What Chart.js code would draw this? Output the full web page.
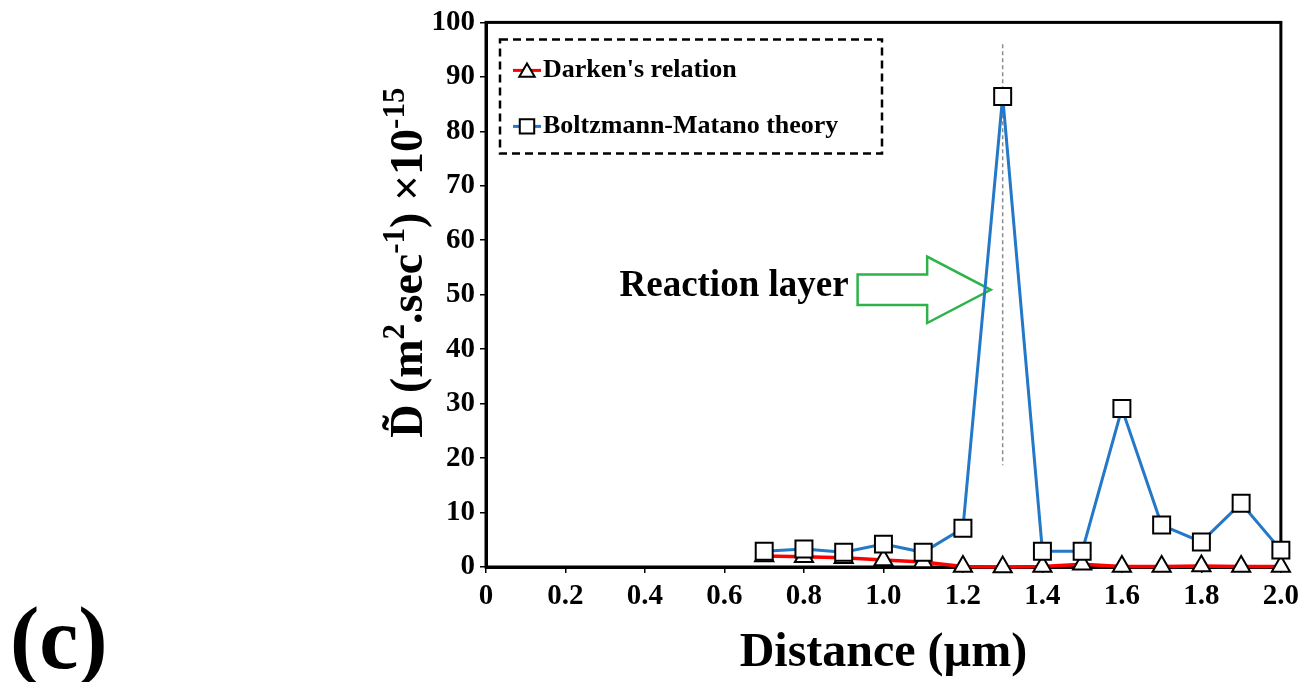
<!DOCTYPE html>
<html>
<head>
<meta charset="utf-8">
<script src="https://cdn.jsdelivr.net/npm/chart.js@4.4.0/dist/chart.umd.min.js"></script>
<style>
  html, body { margin: 0; padding: 0; background: #fff; }
  #wrap { width: 1305px; height: 682px; }
</style>
</head>
<body>
<div id="wrap"><canvas id="myChart" width="1305" height="682"></canvas></div>
<script>
// Distances (um) and diffusion coefficients (x10^-15 m2/s)
var distances = [0.7, 0.8, 0.9, 1.0, 1.1, 1.2, 1.3, 1.4, 1.5, 1.6, 1.7, 1.8, 1.9, 2.0];
var darkenValues = [2.0, 1.9, 1.7, 1.3, 0.9, 0.1, 0.0, 0.1, 0.5, 0.1, 0.1, 0.2, 0.1, 0.1];
var matanoValues = [2.9, 3.3, 2.7, 4.2, 2.7, 7.1, 86.4, 2.9, 2.9, 29.1, 7.7, 4.6, 11.7, 3.1];
var seriesNames = ["Darken's relation", "Boltzmann-Matano theory"];
var xTicks = [0, 0.2, 0.4, 0.6, 0.8, 1.0, 1.2, 1.4, 1.6, 1.8, 2.0];
var yTicks = [0, 10, 20, 30, 40, 50, 60, 70, 80, 90, 100];

// y axis title pieces: [text, superscript?]
var yTitle = [['D\u0303 (m', false], ['2', true], ['.sec', false], ['-1', true], [') \u00d710', false], ['-15', true]];

// reaction layer marker (dashed line) and arrow, in data units
var markerX = 1.3;
var markerRange = [18.7, 96];
var arrowLabel = 'Reaction layer';
var arrowX = [0.935, 1.11, 1.27];   // tail, head start, tip
var arrowY = [50.9, 2.8, 6.1];      // centre, body half height, head half height

var SERIF = '"Liberation Serif", "Times New Roman", serif';

function points(xs, ys) {
  return xs.map(function (x, i) { return { x: x, y: ys[i] }; });
}

var extras = {
  id: 'extras',
  beforeDatasetsDraw: function (chart) {
    var ctx = chart.ctx, a = chart.chartArea;
    var xs = chart.scales.x, ys = chart.scales.y;
    ctx.save();
    // frame
    ctx.strokeStyle = '#000';
    ctx.lineWidth = 3;
    ctx.strokeRect(a.left, a.top, a.right - a.left, a.bottom - a.top);

    // dashed marker line
    ctx.strokeStyle = '#8c8c8c';
    ctx.lineWidth = 1.5;
    ctx.setLineDash([4, 3]);
    ctx.beginPath();
    ctx.moveTo(xs.getPixelForValue(markerX), ys.getPixelForValue(markerRange[1]));
    ctx.lineTo(xs.getPixelForValue(markerX), ys.getPixelForValue(markerRange[0]));
    ctx.stroke();
    ctx.setLineDash([]);

    // green arrow
    var x0 = xs.getPixelForValue(arrowX[0]), x1 = xs.getPixelForValue(arrowX[1]), x2 = xs.getPixelForValue(arrowX[2]);
    var yc = ys.getPixelForValue(arrowY[0]);
    var hb = ys.getPixelForValue(0) - ys.getPixelForValue(arrowY[1]);
    var hh = ys.getPixelForValue(0) - ys.getPixelForValue(arrowY[2]);
    ctx.beginPath();
    ctx.moveTo(x0, yc - hb);
    ctx.lineTo(x1, yc - hb);
    ctx.lineTo(x1, yc - hh);
    ctx.lineTo(x2, yc);
    ctx.lineTo(x1, yc + hh);
    ctx.lineTo(x1, yc + hb);
    ctx.lineTo(x0, yc + hb);
    ctx.closePath();
    ctx.fillStyle = '#fff';
    ctx.fill();
    ctx.strokeStyle = '#2db34a';
    ctx.lineWidth = 2.5;
    ctx.stroke();

    ctx.fillStyle = '#000';
    ctx.font = 'bold 37px ' + SERIF;
    ctx.textAlign = 'right';
    ctx.textBaseline = 'middle';
    ctx.fillText(arrowLabel, x0 - 9, yc - 3);
    ctx.restore();
  },
  afterDraw: function (chart) {
    var ctx = chart.ctx, a = chart.chartArea;
    ctx.save();
    // legend box
    var bx = a.left + 14, by = a.top + 17, bw = 382, bh = 114;
    ctx.strokeStyle = '#000';
    ctx.lineWidth = 2.5;
    ctx.setLineDash([8, 5]);
    ctx.strokeRect(bx, by, bw, bh);
    ctx.setLineDash([]);
    chart.data.datasets.forEach(function (ds, i) {
      var ly = by + 31 + i * 56;
      ctx.strokeStyle = ds.borderColor;
      ctx.lineWidth = 3;
      ctx.beginPath();
      ctx.moveTo(bx + 13, ly);
      ctx.lineTo(bx + 41, ly);
      ctx.stroke();
      ctx.fillStyle = '#fff';
      ctx.strokeStyle = '#000';
      ctx.lineWidth = 2;
      Chart.helpers.drawPoint(ctx, {
        pointStyle: ds.pointStyle,
        radius: ds.pointRadius * 0.85,
        borderWidth: 2
      }, bx + 27, ly + (ds.pointStyle === 'triangle' ? 2 : 0));
      ctx.fillStyle = '#000';
      ctx.font = 'bold 26px ' + SERIF;
      ctx.textAlign = 'left';
      ctx.textBaseline = 'middle';
      ctx.fillText(seriesNames[i], bx + 43, ly);
    });

    // rotated y axis title with superscripts
    var big = 'bold 46px ' + SERIF, small = 'bold 31px ' + SERIF;
    var total = 0;
    yTitle.forEach(function (p) {
      ctx.font = p[1] ? small : big;
      total += ctx.measureText(p[0]).width;
    });
    ctx.translate(422, (a.top + a.bottom) / 2 - 32);
    ctx.rotate(-Math.PI / 2);
    ctx.textAlign = 'left';
    ctx.textBaseline = 'alphabetic';
    var cx = -total / 2;
    yTitle.forEach(function (p) {
      ctx.font = p[1] ? small : big;
      ctx.fillText(p[0], cx, p[1] ? -18 : 0);
      cx += ctx.measureText(p[0]).width;
    });
    ctx.setTransform(1, 0, 0, 1, 0, 0);

    // panel label
    ctx.font = 'bold 88px ' + SERIF;
    ctx.textAlign = 'left';
    ctx.textBaseline = 'alphabetic';
    ctx.fillText('(c)', 10, 668);
    ctx.restore();
  }
};

var ctx = document.getElementById('myChart');
var chart = new Chart(ctx, {
  type: 'line',
  data: {
    datasets: [{
      label: seriesNames[0],
      data: points(distances, darkenValues),
      borderColor: '#ff0000',
      borderWidth: 3.5,
      pointStyle: 'triangle',
      pointRadius: 10.5,
      pointBackgroundColor: '#fff',
      pointBorderColor: '#000',
      pointBorderWidth: 2,
      tension: 0,
      clip: false,
      order: 2
    }, {
      label: seriesNames[1],
      data: points(distances, matanoValues),
      borderColor: '#2478c8',
      borderWidth: 3,
      pointStyle: 'rect',
      pointRadius: 12,
      pointBackgroundColor: '#fff',
      pointBorderColor: '#000',
      pointBorderWidth: 2,
      tension: 0,
      clip: false,
      order: 1
    }]
  },
  options: {
    responsive: false,
    animation: false,
    events: [],
    layout: { padding: { left: 372, top: 21, right: 21, bottom: 0 } },
    scales: {
      x: {
        type: 'linear',
        min: 0,
        max: 2,
        afterFit: function (s) { s.height = 115; },
        afterBuildTicks: function (s) { s.ticks = xTicks.map(function (v) { return { value: v }; }); },
        ticks: {
          color: '#000',
          padding: 6,
          maxRotation: 0,
          autoSkip: false,
          font: { family: SERIF, size: 29, weight: 'bold' },
          callback: function (v) { return v === 0 ? '0' : v.toFixed(1); }
        },
        grid: { drawOnChartArea: false, drawTicks: true, tickLength: 6, color: '#000', lineWidth: 1.5 },
        border: { color: '#000', width: 3 },
        title: {
          display: true,
          text: 'Distance (\u00b5m)',
          color: '#000',
          font: { family: SERIF, size: 48, weight: 'bold' },
          padding: { top: 0, bottom: 0 }
        }
      },
      y: {
        min: 0,
        max: 100,
        afterFit: function (s) { s.width = 114; },
        afterBuildTicks: function (s) { s.ticks = yTicks.map(function (v) { return { value: v }; }); },
        ticks: {
          color: '#000',
          padding: 5,
          autoSkip: false,
          font: { family: SERIF, size: 29, weight: 'bold' }
        },
        grid: { drawOnChartArea: false, drawTicks: true, tickLength: 6, color: '#000', lineWidth: 1.5 },
        border: { color: '#000', width: 3 }
      }
    },
    plugins: {
      legend: { display: false },
      tooltip: { enabled: false }
    }
  },
  plugins: [extras]
});
</script>
</body>
</html>
